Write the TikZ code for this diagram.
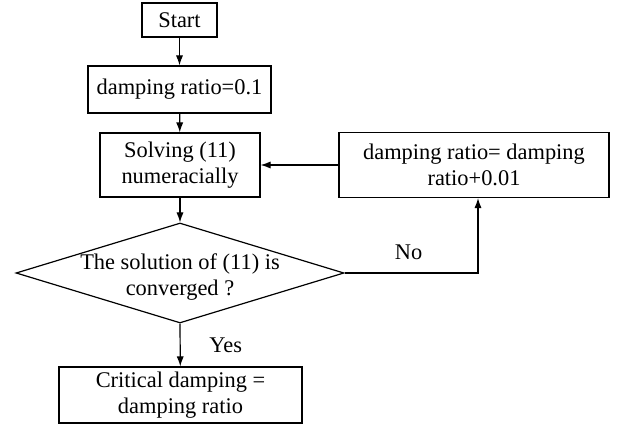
\documentclass[tikz,border=0pt]{standalone}
\usepackage{fontspec}
\setmainfont{Liberation Serif}
\usetikzlibrary{shapes.geometric, arrows.meta}
\tikzset{
every picture/.style={line width=0.6pt, x=0.5pt, y=-0.5pt},
txt/.style={align=center, font=\fontsize{11.2}{12.8}\selectfont},
box/.style={draw, rectangle, inner sep=0pt, txt},
flow/.style={-{Latex[length=5pt, width=3.6pt]}}
}

\begin{document}
\begin{tikzpicture}
      \useasboundingbox (0,0) rectangle (621,427);
      \node[box, minimum width=37.5pt, minimum height=17pt] (start) at (179.5,20) {Start};
      \node[box, minimum width=91.5pt, minimum height=23.5pt] (init) at (179.5,89.5) {damping ratio=0.1};
      \node[box, minimum width=80pt, minimum height=32pt] (solve) at (180,165) {Solving (11)\\numeracially};
      \node[box, minimum width=135pt, minimum height=32.5pt] (update) at (474,165) {damping ratio= damping\\ratio+0.01};
      \node[diamond, draw, inner sep=0pt, minimum width=164pt, minimum height=50pt,
        label={[txt, yshift=-2pt]center:The solution of (11) is\\converged ?}] (check) at (180,273) {};
      \node[box, minimum width=121.5pt, minimum height=28pt] (crit) at (180.5,395) {Critical damping =\\damping ratio};
      \draw[flow] (start) -- (init);
      \draw[flow] (init) -- (solve);
      \draw[flow] (solve) -- (check.north);
      \draw[flow] (check.east) -| node[txt, above=3pt, pos=0.24] {No} ([xshift=2pt]update.south);
      \draw[flow] (update) -- (solve);
      \draw[flow] (check.south) -- node[txt, right=11pt] {Yes} (crit);
    \end{tikzpicture}
\end{document}
